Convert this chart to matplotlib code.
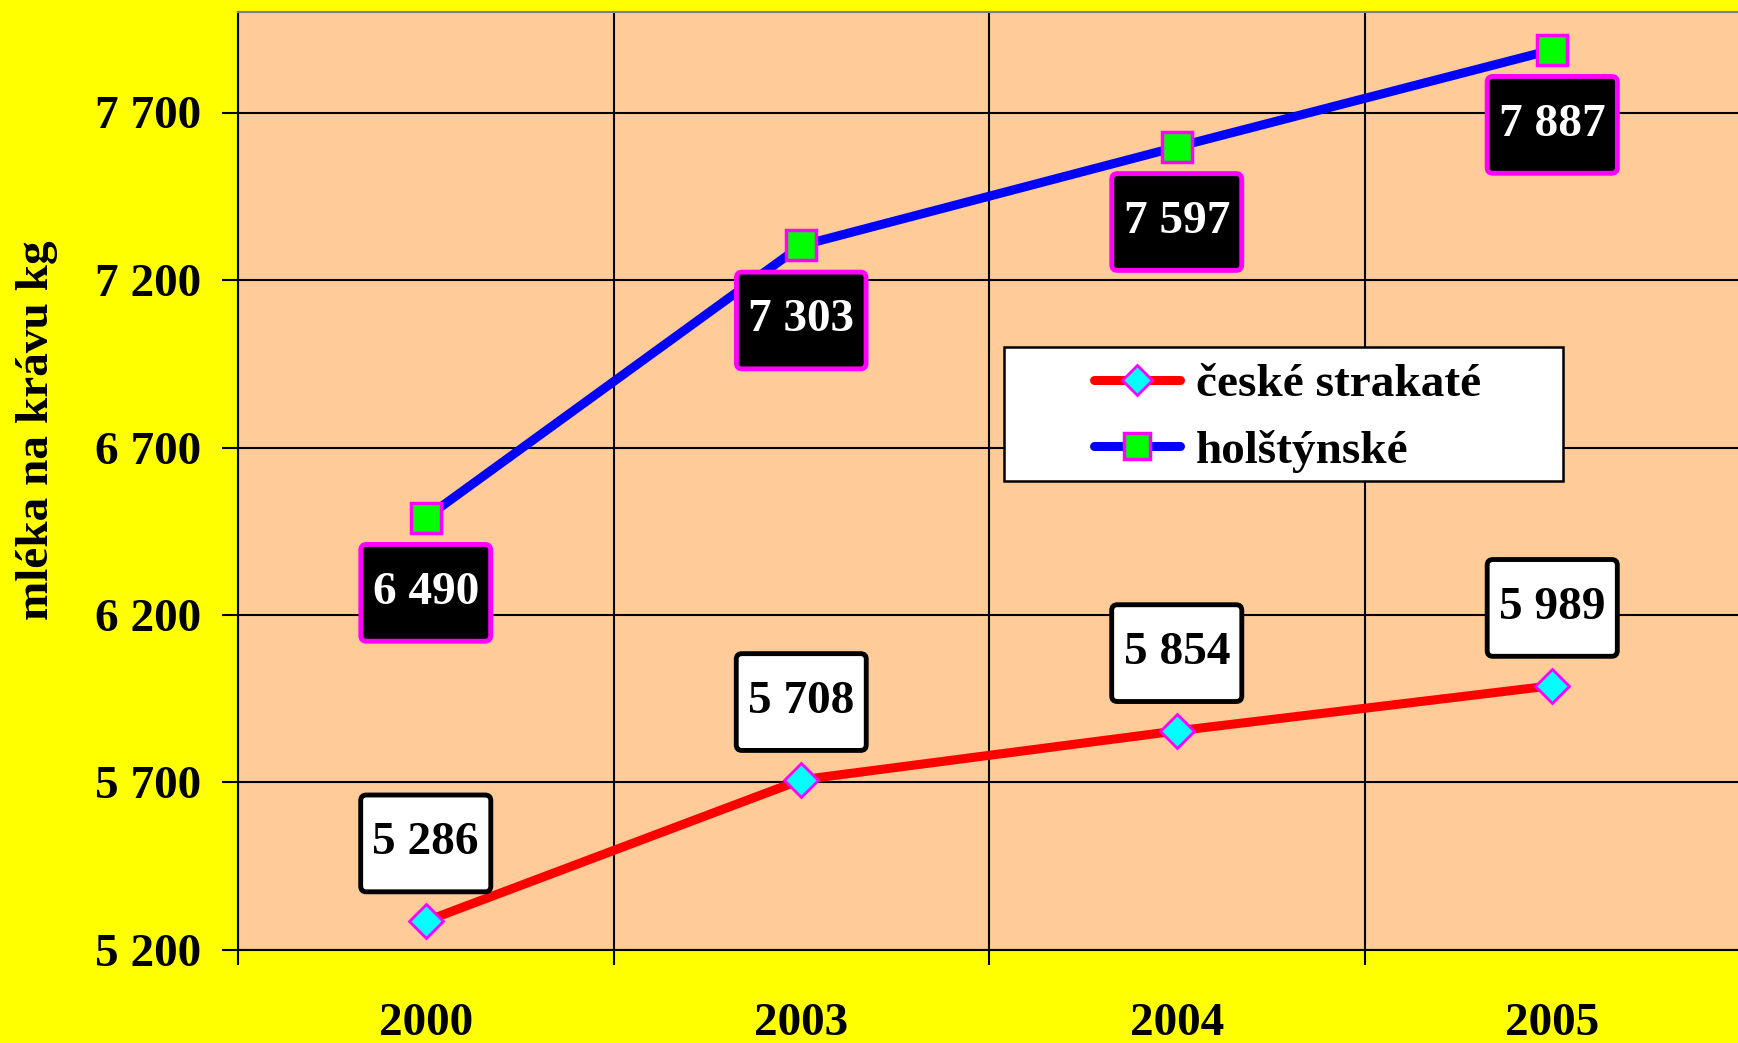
import matplotlib
matplotlib.use("Agg")
import matplotlib.pyplot as plt
from matplotlib.lines import Line2D
from matplotlib.patches import FancyBboxPatch, BoxStyle

years = ["2000", "2003", "2004", "2005"]
ceske = [5286, 5708, 5854, 5989]
holstein = [6490, 7303, 7597, 7887]
yticks = [5200, 5700, 6200, 6700, 7200, 7700]

plt.rcParams['font.family'] = ['Liberation Serif', 'DejaVu Serif']
plt.rcParams['font.weight'] = 'bold'

def fmt(v):
    return f"{v:,}".replace(",", " ")

# label box: more padding top/bottom than left/right
_round = BoxStyle.Round(pad=0, rounding_size=0.12)
def tallbox(x0, y0, width, height, mutation_size):
    px = 0.25 * mutation_size
    py = 0.58 * mutation_size
    return _round(x0 - px, y0 - py, width + 2 * px, height + 2 * py, mutation_size)

fig = plt.figure(figsize=(17.38, 10.43), dpi=100, facecolor="#FFFF00")
ax = fig.add_axes([238/1738, 1-950/1043, 1502/1738, 938/1043])
ax.set_facecolor("#FFCC99")

x = list(range(len(years)))

ax.plot(x, ceske, color="red", lw=6.5, solid_capstyle="round", zorder=3,
        marker="D", ms=17.5, mfc="#00FFFF", mec="#FF00FF", mew=2)
ax.plot(x, holstein, color="blue", lw=6.5, solid_capstyle="round", zorder=3,
        marker="s", ms=21.5, mfc="#00FF00", mec="#FF00FF", mew=2.5)

# value labels
for i, v in enumerate(ceske):
    ax.annotate(fmt(v), (i, v), xytext=(0, 56), textcoords="offset points",
                ha="center", va="center", fontsize=34, fontweight="bold",
                color="black", zorder=5,
                bbox=dict(boxstyle=tallbox, fc="white", ec="black", lw=3.5))
for i, v in enumerate(holstein):
    ax.annotate(fmt(v), (i, v), xytext=(0, -54), textcoords="offset points",
                ha="center", va="center", fontsize=34, fontweight="bold",
                color="white", zorder=5,
                bbox=dict(boxstyle=tallbox, fc="black", ec="#FF00FF", lw=3.5))

ax.set_xlim(-0.5, 3.5)
ax.set_ylim(5200, 8000)

ax.set_xticks(x)
ax.set_xticklabels(years)
ax.set_xticks([i - 0.5 for i in range(len(years) + 1)], minor=True)
ax.tick_params(axis="x", which="major", length=0, pad=38, labelsize=34)
ax.tick_params(axis="x", which="minor", length=11, width=1.5, direction="out")

ax.set_yticks(yticks)
ax.set_yticklabels([fmt(v) for v in yticks])
ax.tick_params(axis="y", length=11.5, width=1.5, pad=15, labelsize=34, direction="out")

ax.grid(which="minor", axis="x", color="black", lw=1.5)
ax.grid(which="major", axis="y", color="black", lw=1.5)
ax.set_axisbelow(True)

for s in ["left", "bottom"]:
    ax.spines[s].set_linewidth(1.5)
    ax.spines[s].set_color("black")
ax.spines["top"].set_color("#808080")
ax.spines["top"].set_linewidth(1.5)
ax.spines["right"].set_visible(False)

fig.text(37/1738, 1-430/1043, "mléka na krávu kg", rotation=90, ha="center",
         va="center", fontsize=34, fontweight="bold")

# legend
frame = FancyBboxPatch((0.510, 0.5), 0.372, 0.1429, boxstyle="square,pad=0",
                       transform=ax.transAxes, fc="white", ec="black", lw=1.8, zorder=6)
ax.add_patch(frame)
handles = [
    Line2D([], [], color="red", lw=6.5, solid_capstyle="round", marker="D",
           ms=15, mfc="#00FFFF", mec="#FF00FF", mew=2),
    Line2D([], [], color="blue", lw=6.5, solid_capstyle="round", marker="s",
           ms=18.5, mfc="#00FF00", mec="#FF00FF", mew=2.5),
]
leg = ax.legend(handles, ["české strakaté", "holštýnské"], loc="center left",
                bbox_to_anchor=(0.554, 0.567), frameon=False, borderpad=0,
                handlelength=1.82, handletextpad=0.35, labelspacing=0.5,
                prop=dict(size=34, weight="bold"))
leg.set_zorder(7)

plt.savefig("out.png", dpi=100, facecolor=fig.get_facecolor())
